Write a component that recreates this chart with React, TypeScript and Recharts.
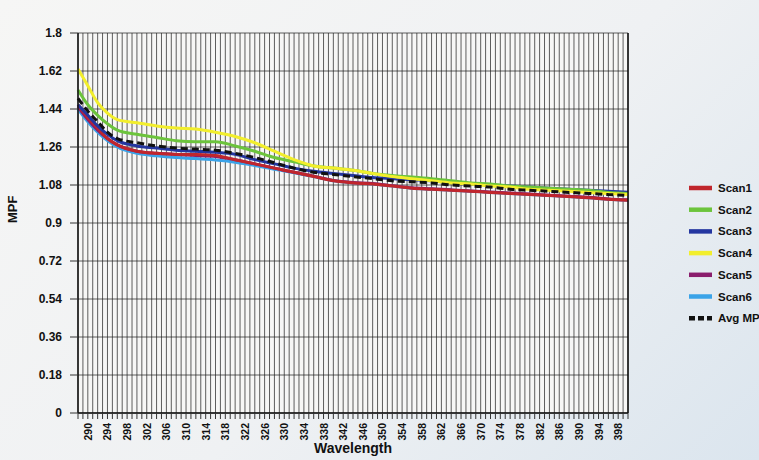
import { LineChart, Line, XAxis, YAxis, CartesianGrid } from 'recharts'

const wavelengths = [288, 290, 292, 294, 296, 300, 304, 308, 312, 316, 320, 324, 328, 332, 336, 340, 344, 348, 352, 356, 360, 364, 368, 372, 376, 380, 384, 388, 392, 396, 400]

const scan1 = [1.46, 1.40, 1.35, 1.30, 1.27, 1.24, 1.23, 1.225, 1.225, 1.22, 1.20, 1.18, 1.16, 1.14, 1.12, 1.10, 1.09, 1.085, 1.075, 1.065, 1.06, 1.055, 1.05, 1.045, 1.04, 1.035, 1.03, 1.025, 1.02, 1.012, 1.008]
const scan2 = [1.53, 1.46, 1.41, 1.37, 1.34, 1.32, 1.305, 1.29, 1.285, 1.285, 1.265, 1.24, 1.21, 1.19, 1.17, 1.16, 1.15, 1.135, 1.125, 1.118, 1.11, 1.10, 1.09, 1.085, 1.075, 1.07, 1.065, 1.06, 1.055, 1.045, 1.04]
const scan3 = [1.46, 1.41, 1.36, 1.32, 1.29, 1.265, 1.255, 1.245, 1.24, 1.235, 1.225, 1.20, 1.18, 1.16, 1.145, 1.135, 1.125, 1.115, 1.11, 1.105, 1.10, 1.09, 1.085, 1.08, 1.075, 1.07, 1.065, 1.06, 1.055, 1.05, 1.046]
const scan4 = [1.63, 1.55, 1.47, 1.42, 1.39, 1.375, 1.36, 1.35, 1.345, 1.33, 1.31, 1.28, 1.24, 1.20, 1.17, 1.16, 1.15, 1.135, 1.12, 1.11, 1.10, 1.09, 1.085, 1.075, 1.07, 1.06, 1.055, 1.05, 1.045, 1.04, 1.035]
const scan5 = [1.45, 1.39, 1.34, 1.30, 1.27, 1.24, 1.23, 1.225, 1.22, 1.215, 1.20, 1.18, 1.16, 1.14, 1.122, 1.102, 1.092, 1.087, 1.077, 1.067, 1.062, 1.057, 1.052, 1.047, 1.042, 1.037, 1.032, 1.027, 1.022, 1.014, 1.01]
const scan6 = [1.44, 1.38, 1.33, 1.29, 1.26, 1.23, 1.218, 1.21, 1.205, 1.198, 1.188, 1.172, 1.155, 1.138, 1.12, 1.10, 1.09, 1.085, 1.075, 1.065, 1.06, 1.055, 1.05, 1.045, 1.04, 1.035, 1.03, 1.025, 1.02, 1.012, 1.008]
const avgMpf = [1.49, 1.43, 1.38, 1.33, 1.30, 1.28, 1.265, 1.255, 1.25, 1.245, 1.23, 1.21, 1.185, 1.16, 1.14, 1.13, 1.12, 1.11, 1.10, 1.095, 1.09, 1.08, 1.075, 1.07, 1.06, 1.055, 1.05, 1.045, 1.04, 1.035, 1.03]

const labelTicks = [290, 294, 298, 302, 306, 310, 314, 318, 322, 326, 330, 334, 338, 342, 346, 350, 354, 358, 362, 366, 370, 374, 378, 382, 386, 390, 394, 398]
const yTicks = [0, 0.18, 0.36, 0.54, 0.72, 0.9, 1.08, 1.26, 1.44, 1.62, 1.8]

// one grid line per nm
const gridTicks = Array.from({ length: 113 }, (_, i) => 288 + i)

const series = [
  { key: 'scan1', name: 'Scan1', color: '#c0262c' },
  { key: 'scan2', name: 'Scan2', color: '#6cc43c' },
  { key: 'scan3', name: 'Scan3', color: '#2436a0' },
  { key: 'scan4', name: 'Scan4', color: '#f2ee2c' },
  { key: 'scan5', name: 'Scan5', color: '#8a1d6c' },
  { key: 'scan6', name: 'Scan6', color: '#3aa3e8' },
]
// scan6 / scan5 sit underneath red, so draw them first
const drawOrder = ['scan6', 'scan5', 'scan1', 'scan3', 'scan2', 'scan4']

const data = wavelengths.map((w, i) => ({
  w,
  scan1: scan1[i],
  scan2: scan2[i],
  scan3: scan3[i],
  scan4: scan4[i],
  scan5: scan5[i],
  scan6: scan6[i],
  avg: avgMpf[i],
}))

const FONT = '"Liberation Sans", Arial, sans-serif'

function WaveTick({ x, y, payload }: any) {
  if (!labelTicks.includes(payload.value)) return <g />
  return (
    <text
      transform={`translate(${x},${y + 2}) rotate(-90)`}
      textAnchor="end"
      dominantBaseline="central"
      fontSize={10.5}
      fontWeight="bold"
      fontFamily={FONT}
      fill="#111"
    >
      {payload.value}
    </text>
  )
}

function LegendBox() {
  const items = [
    ...series.map((s) => ({ name: s.name, color: s.color, dash: undefined as string | undefined })),
    { name: 'Avg MPF', color: '#111', dash: '6 3' },
  ]
  return (
    <svg width={80} height={160} style={{ position: 'absolute', left: 689, top: 180, overflow: 'visible' }}>
      {items.map((it, i) => (
        <g key={it.name} transform={`translate(0,${i * 21.7})`}>
          <line x1={0} x2={23} y1={8} y2={8} stroke={it.color} strokeWidth={4.5} strokeDasharray={it.dash} />
          <text x={29} y={8} dominantBaseline="central" fontSize={11.5} fontWeight="bold" fontFamily={FONT} fill="#111">
            {it.name}
          </text>
        </g>
      ))}
    </svg>
  )
}

export default function App() {
  const byKey = Object.fromEntries(series.map((s) => [s.key, s]))
  return (
    <div
      style={{
        position: 'absolute',
        left: 0,
        top: 0,
        width: 759,
        height: 460,
        overflow: 'hidden',
        background: 'linear-gradient(135deg, #f6f6f5 0%, #eff1f3 55%, #dbe5ee 100%)',
        fontFamily: FONT,
      }}
    >
      <LineChart width={759} height={460} data={data} margin={{ top: 33, right: 81, left: 0, bottom: 0 }}>
        <CartesianGrid
          yAxisId="left"
          stroke="#222"
          strokeWidth={0.8}
          strokeOpacity={0.9}
          fill="#f7f7f6"
          horizontalValues={yTicks}
          verticalValues={gridTicks}
        />
        <XAxis
          dataKey="w"
          type="number"
          domain={[288, 400]}
          ticks={gridTicks}
          interval={0}
          tick={<WaveTick />}
          tickSize={6}
          tickLine={{ stroke: '#333' }}
          axisLine={{ stroke: '#111', strokeWidth: 1.5 }}
          height={47}
          label={{
            value: 'Wavelength',
            position: 'insideBottom',
            offset: 7,
            fontSize: 14,
            fontWeight: 'bold',
            fill: '#111',
            fontFamily: FONT,
          }}
        />
        <YAxis
          yAxisId="left"
          domain={[0, 1.8]}
          ticks={yTicks}
          interval={0}
          width={78}
          tickSize={8}
          tickMargin={8}
          tick={{ fontSize: 12, fontWeight: 'bold', fill: '#111', fontFamily: FONT }}
          tickLine={{ stroke: '#333' }}
          axisLine={{ stroke: '#111', strokeWidth: 1.5 }}
          label={{
            value: 'MPF',
            angle: -90,
            position: 'insideLeft',
            offset: 12,
            fontSize: 13,
            fontWeight: 'bold',
            fill: '#111',
            fontFamily: FONT,
          }}
        />
        <YAxis
          yAxisId="right"
          orientation="right"
          domain={[0, 1.8]}
          ticks={yTicks}
          interval={0}
          width={50}
          tickSize={5}
          tickMargin={7}
          tick={{ fontSize: 12, fontWeight: 'bold', fill: '#111', fontFamily: FONT }}
          tickLine={{ stroke: '#333' }}
          axisLine={{ stroke: '#111', strokeWidth: 1.5 }}
        />
        {drawOrder.map((k) => (
          <Line
            key={k}
            yAxisId="left"
            type="monotone"
            dataKey={k}
            name={byKey[k].name}
            stroke={byKey[k].color}
            strokeWidth={3}
            dot={false}
            isAnimationActive={false}
          />
        ))}
        <Line
          yAxisId="left"
          type="monotone"
          dataKey="avg"
          name="Avg MPF"
          stroke="#111"
          strokeWidth={3}
          strokeDasharray="7 4"
          dot={false}
          isAnimationActive={false}
        />
      </LineChart>
      <LegendBox />
    </div>
  )
}
